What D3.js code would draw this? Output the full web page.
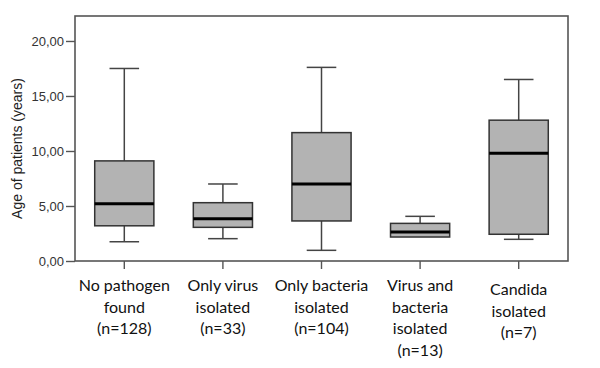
<!DOCTYPE html>
<html><head><meta charset="utf-8">
<script src="https://cdn.jsdelivr.net/npm/d3@7"></script>
<style>body{margin:0;background:#fff}svg{display:block}</style>
</head><body>
<svg id="c" width="600" height="368"></svg>
<script>
const categories = [
  ["No pathogen","found","(n=128)"],
  ["Only virus","isolated","(n=33)"],
  ["Only bacteria","isolated","(n=104)"],
  ["Virus and","bacteria","isolated","(n=13)"],
  ["Candida","isolated","(n=7)"]
];
const whiskerLow = [1.75, 2.03, 0.97, 2.18, 1.97];
const q1 =        [3.2, 3.06, 3.64, 2.18, 2.43];
const median =    [5.2, 3.85, 7.0, 2.64, 9.8];
const q3 =        [9.1, 5.3, 11.67, 3.42, 12.8];
const whiskerHigh = [17.5, 7.0, 17.6, 4.06, 16.5];
const yTicks = [0, 5, 10, 15, 20];
const yLabel = "Age of patients (years)";

const svg = d3.select("#c");
const L = 75, R = 568, T = 16, B = 261;
const x = d3.scaleBand().domain(d3.range(categories.length)).range([L, R]).paddingInner(0).paddingOuter(0);
const y = d3.scaleLinear().domain([0, 22.27]).range([B, T]);
const bw = x.bandwidth() * 0.6;
const cx = i => x(i) + x.bandwidth() / 2;

// frame
svg.append("rect").attr("x", L).attr("y", T).attr("width", R - L).attr("height", B - T)
  .attr("fill", "none").attr("stroke", "#555").attr("stroke-width", 1.6);

// y axis
const ya = svg.append("g").attr("transform", `translate(${L},0)`)
  .call(d3.axisLeft(y).tickValues(yTicks).tickSize(9).tickPadding(2)
    .tickFormat(d => d3.format(".2f")(d).replace(".", ",")));
ya.select(".domain").remove();
ya.selectAll("line").attr("stroke", "#555").attr("stroke-width", 1.4);
ya.selectAll("text").attr("font-family", "Liberation Sans, Arial, sans-serif").attr("font-size", 13).attr("fill", "#333");

// x axis ticks
const xa = svg.append("g").attr("transform", `translate(0,${B})`)
  .call(d3.axisBottom(x).tickSize(8).tickFormat(""));
xa.select(".domain").remove();
xa.selectAll("line").attr("stroke", "#555").attr("stroke-width", 1.4);

// x labels
const lab = svg.append("g").selectAll("text").data(categories).join("text")
  .attr("x", (d, i) => cx(i))
  .attr("y", (d, i) => 291 + (d.length === 3 && i === 4 ? 4 : 0))
  .attr("text-anchor", "middle")
  .attr("font-family", "Lato, 'Open Sans', sans-serif").attr("font-size", 16).attr("fill", "#111");
lab.selectAll("tspan").data((d, i) => d.map(t => [t, i])).join("tspan")
  .attr("x", d => cx(d[1])).attr("dy", (d, j) => j === 0 ? 0 : 21.5).text(d => d[0]);

// y label
svg.append("text").attr("transform", `translate(22,${(T + B) / 2 + 10}) rotate(-90)`)
  .attr("text-anchor", "middle").attr("font-family", "Liberation Sans, Arial, sans-serif")
  .attr("font-size", 14).attr("fill", "#222").text(yLabel);

// boxes
const g = svg.append("g").selectAll("g").data(categories.map((c, i) => i)).join("g");
g.append("line").attr("x1", cx).attr("x2", cx)
  .attr("y1", i => y(whiskerHigh[i])).attr("y2", i => y(q3[i]))
  .attr("stroke", "#444").attr("stroke-width", 1.5);
g.append("line").attr("x1", cx).attr("x2", cx)
  .attr("y1", i => y(whiskerLow[i])).attr("y2", i => y(q1[i]))
  .attr("stroke", "#444").attr("stroke-width", 1.5);
g.append("line").attr("x1", i => cx(i) - bw / 4).attr("x2", i => cx(i) + bw / 4)
  .attr("y1", i => y(whiskerHigh[i])).attr("y2", i => y(whiskerHigh[i]))
  .attr("stroke", "#444").attr("stroke-width", 1.5);
g.filter(i => whiskerLow[i] < q1[i]).append("line").attr("x1", i => cx(i) - bw / 4).attr("x2", i => cx(i) + bw / 4)
  .attr("y1", i => y(whiskerLow[i])).attr("y2", i => y(whiskerLow[i]))
  .attr("stroke", "#444").attr("stroke-width", 1.5);
g.append("rect").attr("x", i => cx(i) - bw / 2).attr("width", bw)
  .attr("y", i => y(q3[i])).attr("height", i => y(q1[i]) - y(q3[i]))
  .attr("fill", "#b3b3b3").attr("stroke", "#333").attr("stroke-width", 1.5);
g.append("line").attr("x1", i => cx(i) - bw / 2).attr("x2", i => cx(i) + bw / 2)
  .attr("y1", i => y(median[i])).attr("y2", i => y(median[i]))
  .attr("stroke", "#000").attr("stroke-width", 3);
</script>
</body></html>
